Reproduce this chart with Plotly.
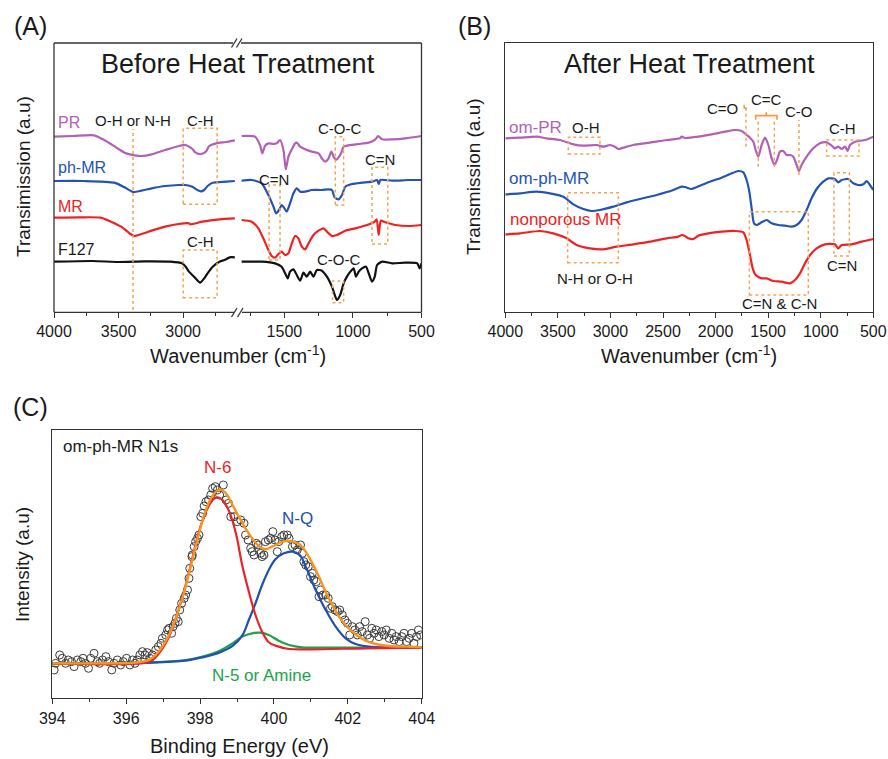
import plotly.graph_objects as go

W, H = 888, 759
FONT = "Liberation Sans, Arial, sans-serif"

# ---------------- DATA ----------------
# Panel A (before heat treatment) - left segment (4000-2560 cm-1)
pr_l_x = [4000, 3850, 3690, 3611, 3520, 3454, 3375, 3323, 3244, 3139, 3034, 2981, 2955, 2929, 2903, 2863, 2824, 2798, 2745, 2666, 2600]
pr_l_y = [526, 528, 530, 516, 494, 478, 470, 468, 473, 486, 498, 501, 496, 489, 478, 474, 481, 498, 506, 510, 515]
phmr_l_x = [4000, 3769, 3533, 3454, 3388, 3323, 3244, 3139, 3034, 2981, 2929, 2890, 2863, 2837, 2811, 2771, 2666, 2600]
phmr_l_y = [393, 393, 388, 374, 360, 364, 371, 378, 381, 381, 376, 366, 362, 366, 378, 388, 391, 393]
mr_l_x = [4000, 3800, 3638, 3559, 3480, 3415, 3381, 3323, 3244, 3139, 3034, 2955, 2945, 2850, 2719, 2600]
mr_l_y = [283, 284, 283, 271, 256, 236, 228, 234, 244, 256, 264, 266, 263, 271, 278, 281]
f127_l_x = [4000, 3700, 3500, 3300, 3100, 3008, 2981, 2955, 2916, 2869, 2837, 2811, 2771, 2719, 2680, 2640, 2600]
f127_l_y = [151, 153, 150, 152, 151, 146, 136, 121, 106, 88, 101, 116, 136, 151, 156, 164, 164]

# Panel A - right segment (1824-500 cm-1)
pr_r_x = [1812, 1715, 1678, 1661, 1642, 1617, 1580, 1556, 1532, 1507, 1490, 1471, 1446, 1422, 1410, 1385, 1349, 1300, 1251,
          1222, 1202, 1178, 1158, 1141, 1124, 1105, 1085, 1068, 1019, 958, 885, 836, 817, 787, 714, 617, 500]
pr_r_y = [528, 526, 501, 476, 498, 506, 504, 506, 516, 486, 428, 466, 488, 506, 508, 496, 488, 481, 476,
          458, 451, 461, 481, 466, 456, 464, 478, 496, 501, 504, 508, 518, 528, 518, 518, 521, 528]
phmr_r_x = [1812, 1739, 1666, 1617, 1580, 1561, 1539, 1520, 1500, 1483, 1459, 1434, 1410, 1385, 1349, 1300,
            1227, 1178, 1153, 1134, 1105, 1080, 1056, 1007, 934, 861, 824, 812, 800, 714, 592, 500]
phmr_r_y = [394, 396, 386, 351, 316, 296, 306, 321, 311, 301, 326, 356, 371, 361, 361, 366,
            366, 368, 366, 344, 338, 351, 376, 384, 388, 391, 396, 384, 396, 394, 396, 396]
mr_r_x = [1812, 1739, 1690, 1654, 1617, 1593, 1568, 1544, 1520, 1495, 1471, 1446, 1422, 1398, 1373, 1349, 1324,
          1288, 1251, 1215, 1190, 1153, 1117, 1056, 983, 897, 841, 827, 812, 797, 775, 690, 592, 500]
mr_r_y = [276, 271, 251, 221, 186, 168, 163, 174, 181, 171, 176, 206, 228, 221, 196, 188, 206,
          231, 244, 251, 241, 228, 231, 244, 251, 261, 271, 278, 231, 274, 271, 261, 258, 261]
f127_r_x = [1812, 1666, 1568, 1520, 1495, 1476, 1459, 1434, 1410, 1385, 1361, 1337, 1312, 1288, 1263, 1227, 1190,
            1153, 1117, 1093, 1068, 1044, 1019, 995, 978, 958, 934, 905, 885, 861, 841, 824, 787, 714, 617, 531, 514, 500]
f127_r_y = [151, 151, 146, 136, 116, 101, 121, 128, 111, 94, 118, 106, 121, 106, 126, 124, 106,
            76, 36, 51, 86, 106, 121, 131, 106, 121, 131, 136, 116, 91, 106, 141, 151, 146, 148, 146, 131, 146]

# Panel B (after heat treatment)
ompr_x = [4000, 3861, 3702, 3607, 3480, 3353, 3258, 3131, 3068, 3005, 2957, 2925, 2878, 2783, 2624, 2466, 2339, 2323, 2291,
          2164, 2037, 1911, 1816, 1752, 1705, 1673, 1641, 1619, 1594, 1562, 1530, 1498, 1467, 1441, 1416, 1388, 1356,
          1324, 1292, 1261, 1229, 1207, 1182, 1134, 1071, 1007, 944, 896, 865, 833, 801, 769, 744, 722, 674, 579, 500]
ompr_y = [521, 523, 526, 521, 516, 503, 499, 501, 496, 501, 496, 489, 493, 501, 508, 516, 521, 526, 522,
          526, 533, 541, 546, 543, 531, 523, 511, 486, 466, 501, 523, 501, 461, 441, 456, 481, 483,
          471, 471, 466, 441, 423, 441, 466, 491, 506, 509, 499, 491, 496, 489, 496, 483, 501, 511, 516, 526]
omphmr_x = [4000, 3861, 3702, 3575, 3448, 3353, 3258, 3179, 3100, 2973, 2846, 2719, 2561, 2402, 2323, 2291, 2228,
            2133, 2037, 1942, 1847, 1784, 1736, 1705, 1679, 1657, 1635, 1610, 1562, 1514, 1467, 1403, 1340, 1277,
            1229, 1182, 1134, 1087, 1039, 976, 928, 865, 833, 801, 738, 690, 642, 595, 563, 532, 500]
omphmr_y = [353, 356, 361, 356, 346, 323, 309, 303, 306, 316, 329, 339, 351, 366, 376, 375, 369,
            381, 393, 403, 416, 423, 419, 396, 361, 311, 266, 261, 269, 276, 266, 261, 259, 256,
            261, 276, 306, 341, 369, 391, 401, 399, 389, 396, 399, 386, 381, 383, 393, 381, 366]
npmr_x = [4000, 3861, 3670, 3544, 3417, 3322, 3195, 3068, 2941, 2783, 2624, 2466, 2355, 2323, 2291, 2259, 2212,
          2164, 2069, 1942, 1816, 1736, 1705, 1673, 1647, 1619, 1562, 1514, 1451, 1372, 1292, 1245, 1197, 1150,
          1102, 1039, 960, 865, 833, 801, 706, 611, 500]
npmr_y = [233, 236, 243, 236, 221, 201, 191, 188, 196, 203, 211, 221, 226, 231, 228, 221, 219,
          229, 236, 241, 243, 239, 216, 171, 131, 111, 101, 101, 93, 91, 86, 96, 116, 146,
          171, 191, 203, 203, 191, 201, 203, 211, 219]

# Panel C (XPS N1s)
xps_x = [394.05, 394.09, 394.20, 394.27, 394.36, 394.43, 394.52, 394.59, 394.68, 394.77,
         394.83, 394.90, 394.98, 395.04, 395.13, 395.22, 395.28, 395.36, 395.45, 395.52,
         395.61, 395.67, 395.76, 395.85, 395.92, 396.01, 396.10, 396.17, 396.24, 396.30,
         396.37, 396.44, 396.51, 396.57, 396.64, 396.71, 396.80, 396.87, 396.94, 396.98,
         397.07, 397.12, 397.16, 397.23, 397.27, 397.32, 397.36, 397.41, 397.45, 397.50,
         397.57, 397.61, 397.66, 397.70, 397.72, 397.78, 397.79, 397.84, 397.88, 397.93,
         397.97, 398.02, 398.07, 398.11, 398.16, 398.23, 398.29, 398.34, 398.41, 398.47,
         398.53, 398.63, 398.70, 398.77, 398.83,
         398.92, 399.01, 399.10, 399.19, 399.23, 399.30, 399.37, 399.41, 399.46, 399.52,
         399.57, 399.64, 399.68, 399.73, 399.77, 399.85, 399.91, 399.97, 400.03, 400.09,
         400.13, 400.21, 400.27, 400.36, 400.41, 400.50, 400.57, 400.63, 400.72, 400.77,
         400.81, 400.86, 400.93, 400.99, 401.04, 401.08, 401.15, 401.22, 401.26, 401.33,
         401.40, 401.47, 401.53, 401.58, 401.65, 401.72, 401.78, 401.85, 401.92, 401.99,
         402.05, 402.12, 402.19, 402.26, 402.32, 402.39, 402.47, 402.53, 402.59, 402.65,
         402.71, 402.77, 402.84, 402.92, 402.98, 403.04, 403.12, 403.19, 403.25, 403.31,
         403.39, 403.46, 403.52, 403.59, 403.66, 403.73, 403.79, 403.86, 403.91, 403.97]
xps_y = [85, 105, 130, 120, 105, 115, 110, 95, 115, 110,
         120, 105, 90, 120, 135, 110, 105, 115, 125, 110,
         85, 105, 115, 100, 110, 120, 100, 115, 105, 115,
         130, 140, 130, 137, 120, 130, 145, 155, 165, 180,
         190, 205, 210, 195, 215, 225, 240, 230, 265, 285,
         300, 310, 325, 360, 390, 425, 430, 455, 470, 480,
         490, 545, 555, 577, 590, 595, 610, 630, 635, 625,
         610, 640, 595, 585, 545,
         545, 530, 535, 525, 490, 475, 450, 440, 430, 465,
         460, 435, 425, 430, 470, 475, 480, 500, 475, 440,
         470, 485, 490, 490, 480, 455, 460, 445, 460, 435,
         410, 400, 395, 365, 375, 355, 350, 305, 325, 310,
         310, 300, 270, 275, 265, 260, 265, 250, 235, 225,
         190, 215, 205, 190, 215, 200, 230, 190, 180, 210,
         195, 205, 185, 200, 190, 205, 180, 195, 175, 185,
         170, 185, 195, 170, 180, 195, 165, 185, 205, 190]

env_x = [394.0, 395.36, 396.26, 396.62, 396.8, 396.98, 397.16, 397.34, 397.52, 397.70, 397.88, 398.07, 398.25,
         398.43, 398.56, 398.70, 398.88, 399.05, 399.23, 399.41, 399.59, 399.77, 399.95, 400.23, 400.45, 400.68,
         400.86, 401.04, 401.22, 401.40, 401.58, 401.76, 401.94, 402.12, 402.30, 402.48, 402.75, 403.12, 403.57, 404.0]
env_y = [105, 105, 107, 115, 130, 155, 190, 240, 300, 375, 455, 535, 590,
         620, 627, 615, 580, 545, 510, 480, 457, 447, 455, 470, 472, 463,
         440, 405, 365, 320, 280, 245, 220, 200, 185, 173, 163, 157, 155, 153]
n6_x = [394.0, 396.53, 396.71, 396.89, 397.07, 397.25, 397.43, 397.61, 397.79, 397.97, 398.16, 398.34, 398.47,
        398.61, 398.79, 398.97, 399.14, 399.32, 399.50, 399.68, 399.86, 400.04, 400.41, 401.0, 402.5, 404.0]
n6_y = [105, 107, 115, 135, 165, 210, 270, 340, 420, 500, 560, 595, 603,
        595, 560, 495, 400, 320, 250, 200, 168, 158, 148, 147, 150, 152]
nq_x = [394.0, 396.71, 397.61, 398.07, 398.52, 398.88, 399.14, 399.32, 399.50, 399.68, 399.86, 400.04, 400.27,
        400.50, 400.70, 400.86, 401.13, 401.40, 401.67, 401.94, 402.21, 402.57, 404.0]
nq_y = [105, 107, 113, 123, 137, 157, 188, 235, 285, 340, 385, 417, 435,
        440, 430, 395, 325, 265, 215, 180, 163, 155, 152]
n5_x = [394.0, 396.71, 397.61, 398.07, 398.52, 398.88, 399.14, 399.41, 399.64, 399.86, 400.13, 400.41, 400.77, 401.5, 404.0]
n5_y = [105, 108, 115, 125, 142, 165, 185, 195, 197, 190, 173, 160, 153, 152, 152]

# Tick labels
a_left_ticks = [4000, 3500, 3000]
a_right_ticks = [1500, 1000, 500]

# ---------------- STYLE ----------------
PURPLE = "#B35FB6"
BLUE = "#2354B4"
RED = "#EE2222"
BLACK = "#111111"
ORANGE = "#F6A352"
FRAME = "#333333"
TXT = "#1a1a1a"


def px(x):
    return x / W


def py(y):
    return 1 - y / H


fig = go.Figure()


def line_trace(x, y, color, xa, ya, width=2.2, smooth=0.6):
    fig.add_trace(go.Scatter(x=x, y=y, xaxis=xa, yaxis=ya, mode="lines",
                             line=dict(color=color, width=width, shape="spline", smoothing=smooth),
                             showlegend=False, hoverinfo="skip"))


# Panel A
for (xl, yl, xr, yr, c) in [(pr_l_x, pr_l_y, pr_r_x, pr_r_y, PURPLE),
                            (phmr_l_x, phmr_l_y, phmr_r_x, phmr_r_y, BLUE),
                            (mr_l_x, mr_l_y, mr_r_x, mr_r_y, RED),
                            (f127_l_x, f127_l_y, f127_r_x, f127_r_y, BLACK)]:
    line_trace(xl, yl, c, "x", "y")
    line_trace(xr, yr, c, "x2", "y")

# Panel B
line_trace(ompr_x, ompr_y, PURPLE, "x3", "y3")
line_trace(omphmr_x, omphmr_y, BLUE, "x3", "y3")
line_trace(npmr_x, npmr_y, RED, "x3", "y3")

# Panel C
fig.add_trace(go.Scatter(x=xps_x, y=xps_y, xaxis="x4", yaxis="y4", mode="markers",
                         marker=dict(symbol="circle-open", size=8, color="#3c3c3c", line=dict(width=1)),
                         showlegend=False, hoverinfo="skip"))
line_trace(n5_x, n5_y, "#1BA548", "x4", "y4", smooth=1.0)
line_trace(nq_x, nq_y, "#2150B0", "x4", "y4", smooth=1.0)
line_trace(n6_x, n6_y, "#E8242A", "x4", "y4", smooth=1.0)
line_trace(env_x, env_y, "#F7931E", "x4", "y4", width=2.4, smooth=1.0)

tickfont = dict(family=FONT, size=16, color=TXT)
common_x = dict(showgrid=False, zeroline=False, ticks="outside", ticklen=5, tickwidth=1, tickcolor=FRAME,
                tickfont=tickfont, automargin=False)
common_y = dict(showgrid=False, zeroline=False, showticklabels=False, ticks="", automargin=False)

fig.update_layout(
    width=W, height=H, margin=dict(l=0, r=0, t=0, b=0, pad=0, autoexpand=False),
    paper_bgcolor="white", plot_bgcolor="rgba(0,0,0,0)",
    font=dict(family=FONT, color=TXT),
    xaxis=dict(domain=[px(54), px(240)], range=[4000, 2560], anchor="y", tickvals=a_left_ticks,
               minor=dict(tickvals=[3750, 3250, 2750], ticks="outside", ticklen=3, tickcolor=FRAME),
               showline=False, **common_x),
    xaxis2=dict(domain=[px(240), px(421.5)], range=[1824, 500], anchor="y", tickvals=a_right_ticks,
                minor=dict(tickvals=[1750, 1250, 750], ticks="outside", ticklen=3, tickcolor=FRAME),
                showline=False, **common_x),
    yaxis=dict(domain=[py(312), py(43)], range=[0, 807], anchor="x", showline=False, **common_y),
    xaxis3=dict(domain=[px(505.3), px(873.3)], range=[4000, 500], anchor="y3", tick0=0, dtick=500,
                minor=dict(dtick=250, tick0=0, ticks="outside", ticklen=3, tickcolor=FRAME),
                showline=True, mirror=True, linecolor=FRAME, linewidth=1.3, **common_x),
    yaxis3=dict(domain=[py(312), py(43)], range=[0, 807], anchor="x3", showline=True, mirror=True,
                linecolor=FRAME, linewidth=1.3, **common_y),
    xaxis4=dict(domain=[px(52.3), px(421.7)], range=[394, 404], anchor="y4", tick0=394, dtick=2,
                minor=dict(dtick=1, tick0=394, ticks="outside", ticklen=3, tickcolor=FRAME),
                showline=True, mirror=True, linecolor=FRAME, linewidth=1.3, **common_x),
    yaxis4=dict(domain=[py(698.3), py(430)], range=[0, 805], anchor="x4", showline=True, mirror=True,
                linecolor=FRAME, linewidth=1.3, **common_y),
)

shapes = []
fl = dict(color=FRAME, width=1.3)


def pline(x0, y0, x1, y1, line=fl):
    shapes.append(dict(type="line", xref="paper", yref="paper", x0=px(x0), y0=py(y0), x1=px(x1), y1=py(y1),
                       line=line, layer="above"))


# Panel A frame with axis break
pline(54, 43, 54, 312.3)
pline(421.5, 43, 421.5, 312.3)
pline(54, 312.3, 234, 312.3)
pline(242, 312.3, 421.5, 312.3)
pline(54, 43, 233, 43)
pline(241, 43, 421.5, 43)
for (a, b) in [(231.5, 237), (237.5, 243)]:
    pline(a, 317, b, 308)
for (a, b) in [(231.5, 237), (236.5, 242)]:
    pline(a, 47.5, b, 38.5)

box_line = dict(color=ORANGE, width=1.5, dash="dot")


def box(xr, yr, x0, x1, y0, y1):
    shapes.append(dict(type="rect", xref=xr, yref=yr, x0=x0, x1=x1, y0=y0, y1=y1, line=box_line,
                       fillcolor="rgba(0,0,0,0)", layer="above"))


def vline(xr, yr, x, y0, y1):
    shapes.append(dict(type="line", xref=xr, yref=yr, x0=x, x1=x, y0=y0, y1=y1, line=box_line, layer="above"))


# Panel A boxes/lines
vline("x", "y", 3388, 6, 549)
box("x", "y", 3000, 2737, 323, 551)
box("x", "y", 3000, 2737, 43, 186)
box("x2", "y", 1129, 1068, 321, 526)
box("x2", "y", 1612, 1532, 156, 381)
box("x2", "y", 861, 746, 204, 434)
box("x2", "y", 1149, 1068, 28, 93)

# Panel B boxes/lines
box("x3", "y3", 3401, 3100, 474, 524)
box("x3", "y3", 3407, 2925, 148, 358)
box("x3", "y3", 944, 636, 468, 516)
box("x3", "y3", 874, 728, 168, 418)
box("x3", "y3", 1679, 1118, 51, 301)
vline("x3", "y3", 1711, 496, 604)
vline("x3", "y3", 1594, 436, 581)
vline("x3", "y3", 1441, 436, 581)
vline("x3", "y3", 1207, 411, 576)
shapes.append(dict(type="path", xref="x3", yref="y3",
                   path="M1619,577 L1619,589 L1416,589 L1416,577 M1518,589 L1518,599",
                   line=dict(color="#F39A3C", width=1.6), layer="above"))
# C=O hook arrow
shapes.append(dict(type="path", xref="x3", yref="y3",
                   path="M1711,604 L1711,612 L1728,612 L1728,622",
                   line=dict(color="#F39A3C", width=1.5), layer="above"))

fig.update_layout(shapes=shapes)

anns = []


def ann(text, x, y, xref, yref, size=15, color=TXT, xanchor="center", **kw):
    d = dict(text=text, x=x, y=y, xref=xref, yref=yref, showarrow=False, xanchor=xanchor, yanchor="middle",
             font=dict(family=FONT, size=size, color=color))
    d.update(kw)
    anns.append(d)


# Panel letters & titles
ann("(A)", px(30), py(26), "paper", "paper", size=25)
ann("(B)", px(474), py(26), "paper", "paper", size=25)
ann("(C)", px(30), py(407), "paper", "paper", size=25)
ann("Before Heat Treatment", px(238), py(64), "paper", "paper", size=27)
ann("After Heat Treatment", px(689), py(64), "paper", "paper", size=27)
ann("Transimission (a.u)", px(23), py(177), "paper", "paper", size=19, textangle=-90)
ann("Transmission (a.u)", px(473), py(177), "paper", "paper", size=19, textangle=-90)
ann("Intensity (a.u)", px(22), py(565), "paper", "paper", size=19, textangle=-90)
ann("Wavenumber (cm<sup>-1</sup>)", px(238), py(354), "paper", "paper", size=20)
ann("Wavenumber (cm<sup>-1</sup>)", px(689), py(354), "paper", "paper", size=20)
ann("Binding Energy (eV)", px(239), py(746), "paper", "paper", size=20)

# Panel A labels
ann("PR", 4000, 567, "x", "y", size=16, color=PURPLE, xanchor="left", xshift=2)
ann("ph-MR", 4000, 432, "x", "y", size=16, color=BLUE, xanchor="left", xshift=2)
ann("MR", 4000, 316, "x", "y", size=16, color=RED, xanchor="left", xshift=2)
ann("F127", 4000, 186, "x", "y", size=16, color=TXT, xanchor="left", xshift=2)
ann("O-H or N-H", 3388, 574, "x", "y")
ann("C-H", 2868, 574, "x", "y")
ann("C-H", 2868, 210, "x", "y")
ann("C-O-C", 1097, 551, "x2", "y")
ann("C=N", 800, 456, "x2", "y")
ann("C=N", 1573, 398, "x2", "y")
ann("C-O-C", 1105, 158, "x2", "y")

# Panel B labels
ann("om-PR", 4000, 552, "x3", "y3", size=17, color=PURPLE, xanchor="left", xshift=2)
ann("om-ph-MR", 4000, 401, "x3", "y3", size=17, color=BLUE, xanchor="left", xshift=2)
ann("nonporous MR", 4000, 276, "x3", "y3", size=17, color=RED, xanchor="left", xshift=3)
ann("O-H", 3233, 553, "x3", "y3")
ann("N-H or O-H", 3147, 101, "x3", "y3")
ann("C=O", 1930, 611, "x3", "y3")
ann("C=C", 1514, 636, "x3", "y3")
ann("C-O", 1207, 601, "x3", "y3")
ann("C-H", 790, 551, "x3", "y3")
ann("C=N", 801, 139, "x3", "y3")
ann("C=N &amp; C-N", 1394, 26, "x3", "y3")

# Panel C labels
ann("om-ph-MR N1s", 394.24, 757, "x4", "y4", size=17, xanchor="left")
ann("N-6", 398.47, 693, "x4", "y4", size=17, color="#E8242A")
ann("N-Q", 400.64, 540, "x4", "y4", size=17, color="#2150B0")
ann("N-5 or Amine", 399.67, 67, "x4", "y4", size=17, color="#1BA548")

fig.update_layout(annotations=anns)

fig.write_html("out.html")
